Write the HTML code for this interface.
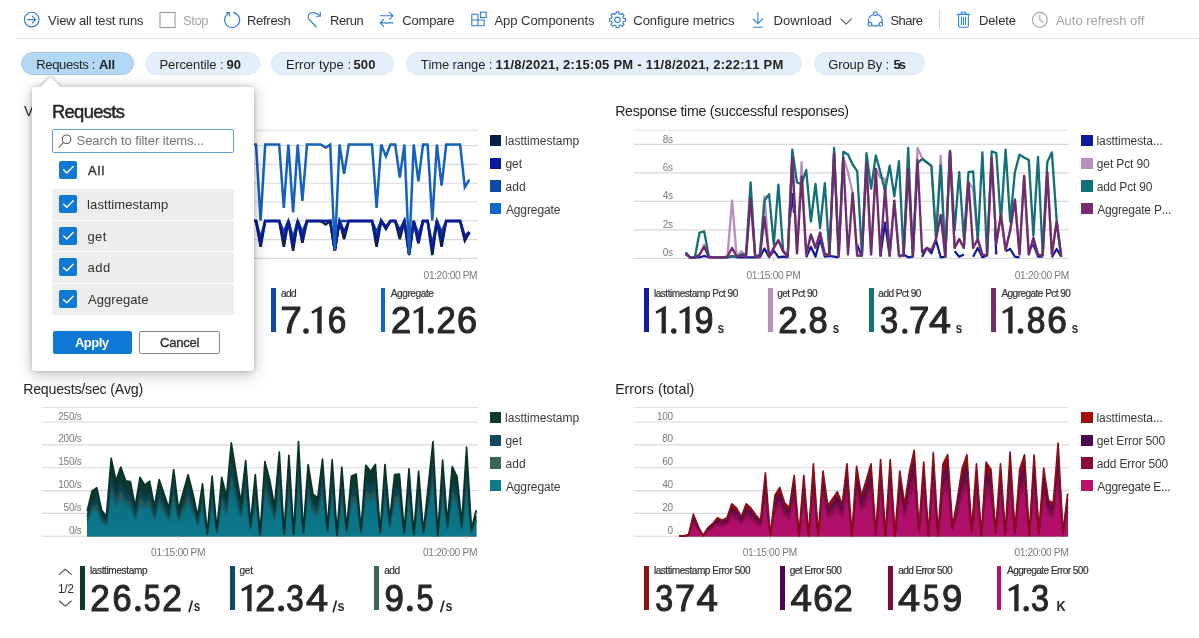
<!DOCTYPE html>
<html><head><meta charset="utf-8"><title>Test run dashboard</title>
<style>
html,body{margin:0;padding:0;background:#fff;}
body{width:1199px;height:638px;position:relative;overflow:hidden;font-family:"Liberation Sans",sans-serif;}
.t{position:absolute;white-space:pre;line-height:normal;font-kerning:none;}
.b{position:absolute;box-sizing:border-box;}
svg{position:absolute;left:0;top:0;overflow:visible;}
#root{position:absolute;left:0;top:0;width:1199px;height:638px;will-change:transform;}
</style></head><body><div id="root">
<div class="b" style="left:16px;top:37.5px;width:1183px;height:1px;background:#e6e6e6;"></div>
<span class="t" style="left:47.94px;top:12.93px;font-size:13px;color:#323130;letter-spacing:-0.161px;">View all test runs</span>
<span class="t" style="left:182.91px;top:12.93px;font-size:13px;color:#a6a4a2;letter-spacing:-0.369px;">Stop</span>
<span class="t" style="left:246.93px;top:12.93px;font-size:13px;color:#323130;letter-spacing:-0.268px;">Refresh</span>
<span class="t" style="left:329.93px;top:12.93px;font-size:13px;color:#323130;letter-spacing:-0.374px;">Rerun</span>
<span class="t" style="left:402.34px;top:12.93px;font-size:13px;color:#323130;letter-spacing:-0.205px;">Compare</span>
<span class="t" style="left:494.47px;top:12.93px;font-size:13px;color:#323130;letter-spacing:-0.035px;">App Components</span>
<span class="t" style="left:633.34px;top:12.93px;font-size:13px;color:#323130;letter-spacing:-0.046px;">Configure metrics</span>
<span class="t" style="left:773.43px;top:12.93px;font-size:13px;color:#323130;letter-spacing:0.084px;">Download</span>
<span class="t" style="left:890.41px;top:12.93px;font-size:13px;color:#323130;letter-spacing:-0.505px;">Share</span>
<span class="t" style="left:978.93px;top:12.93px;font-size:13px;color:#323130;letter-spacing:-0.087px;">Delete</span>
<span class="t" style="left:1055.97px;top:12.93px;font-size:13px;color:#a6a4a2;letter-spacing:-0.025px;">Auto refresh off</span>
<svg width="1199" height="40" viewBox="0 0 1199 40" fill="none" stroke="#2f7fc6" stroke-width="1.1" stroke-linecap="round" stroke-linejoin="round">
<circle cx="31.7" cy="19.6" r="7.3"/><path d="M27.6 19.6H35.4M32.4 16.3L35.6 19.6L32.4 22.9"/>
<rect x="160" y="12.5" width="15" height="15" stroke="#9a9896" stroke-linejoin="miter"/>
<path d="M229.2 13.1A7.5 7.5 0 1 0 233.4 12.6"/><path d="M226.6 12.4L229.6 12.9L229.2 16.1" />
<path d="M316.3 27L309 19.3C306.8 16.6 308.6 12.6 312.4 12.6C315.6 12.6 318.2 14 319.9 16"/><path d="M320.3 12.2V16.2H316.4"/>
<path d="M380.4 15.8H393M389.6 12.4L393 15.8L389.6 19.2M393 22.9H380.2M383.6 19.5L380.2 22.9L383.6 26.3"/>
<path d="M471.8 14.3H478V25.8H471.8ZM471.8 20H484.2V25.8H478" stroke-linejoin="miter"/><rect x="480.5" y="12.2" width="5.7" height="5.4" stroke-linejoin="miter"/>
<circle cx="617.5" cy="19.8" r="2.7"/>
<path d="M616.12 11.92L618.88 11.92L618.95 13.77L620.74 14.51L622.10 13.25L624.05 15.20L622.79 16.56L623.53 18.35L625.38 18.42L625.38 21.18L623.53 21.25L622.79 23.04L624.05 24.40L622.10 26.35L620.74 25.09L618.95 25.83L618.88 27.68L616.12 27.68L616.05 25.83L614.26 25.09L612.90 26.35L610.95 24.40L612.21 23.04L611.47 21.25L609.62 21.18L609.62 18.42L611.47 18.35L612.21 16.56L610.95 15.20L612.90 13.25L614.26 14.51L616.05 13.77Z"/>
<path d="M757.9 12.5V23.6M753.2 19L757.9 23.7L762.6 19M753.4 27.3H762.5" stroke="#2b88d8"/>
<path d="M840.8 18.8L846.1 24.2L851.4 18.8" stroke="#605e5c"/>
<circle cx="875.4" cy="13.7" r="1.9"/><circle cx="869.9" cy="24.3" r="1.9"/><circle cx="880.8" cy="24.3" r="1.9"/>
<path d="M873.5 14.3C869.5 16 867.9 19.3 868.9 22.4M877.3 14.3C881.3 16 882.8 19.3 881.8 22.4M871.8 25C874 26.4 876.8 26.4 879 25"/>
<path d="M939.5 10V28.5" stroke="#d6d4d2" stroke-width="1"/>
<path d="M957.3 14.4H969.7M961.3 14.2V12.2H965.7V14.2M958.6 14.6V25.8Q958.6 27.3 960.1 27.3H966.9Q968.4 27.3 968.4 25.8V14.6M961.5 17V24.6M963.5 17V24.6M965.5 17V24.6" stroke="#2b88d8"/>
<circle cx="1039.8" cy="19.8" r="7.4" stroke="#a8a6a4"/><path d="M1039.8 15.2V19.9L1042.8 22.3" stroke="#a8a6a4"/>
</svg>
<div class="b" style="left:21px;top:52.3px;width:113px;height:23.2px;background:#b3d8f5;border-radius:12px;border:1px solid #a4c9e6;"></div>
<span class="t" style="left:36.33px;top:56.64px;font-size:13px;color:#201f1e;letter-spacing:-0.354px;">Requests :</span>
<span class="t" style="left:98.88px;top:56.64px;font-size:13px;font-weight:bold;color:#201f1e;letter-spacing:-0.234px;">All</span>
<div class="b" style="left:145px;top:52.3px;width:115px;height:23.2px;background:#e3effa;border-radius:12px;border:1px solid #dbe9f6;"></div>
<span class="t" style="left:159.43px;top:56.64px;font-size:13px;color:#201f1e;letter-spacing:-0.071px;">Percentile :</span>
<span class="t" style="left:226.55px;top:56.64px;font-size:13px;font-weight:bold;color:#201f1e;letter-spacing:0.024px;">90</span>
<div class="b" style="left:270.5px;top:52.3px;width:123.0px;height:23.2px;background:#e3effa;border-radius:12px;border:1px solid #dbe9f6;"></div>
<span class="t" style="left:285.93px;top:56.64px;font-size:13px;color:#201f1e;letter-spacing:0.087px;">Error type :</span>
<span class="t" style="left:353.40px;top:56.64px;font-size:13px;font-weight:bold;color:#201f1e;letter-spacing:0.222px;">500</span>
<div class="b" style="left:405.5px;top:52.3px;width:396.5px;height:23.2px;background:#e3effa;border-radius:12px;border:1px solid #dbe9f6;"></div>
<span class="t" style="left:420.71px;top:56.64px;font-size:13px;color:#201f1e;letter-spacing:-0.118px;">Time range :</span>
<span class="t" style="left:495.48px;top:56.64px;font-size:13px;font-weight:bold;color:#201f1e;letter-spacing:0.236px;">11/8/2021, 2:15:05 PM - 11/8/2021, 2:22:11 PM</span>
<div class="b" style="left:814px;top:52.3px;width:111px;height:23.2px;background:#e3effa;border-radius:12px;border:1px solid #dbe9f6;"></div>
<span class="t" style="left:828.35px;top:56.64px;font-size:13px;color:#201f1e;letter-spacing:-0.144px;">Group By :</span>
<span class="t" style="left:893.40px;top:56.64px;font-size:13px;font-weight:bold;color:#201f1e;letter-spacing:-1.827px;">5s</span>
<span class="t" style="left:23.94px;top:103.45px;font-size:14.2px;color:#252423;letter-spacing:0.000px;">Virtual Users (Max)</span>
<span class="t" style="left:615.14px;top:103.45px;font-size:14.2px;color:#252423;letter-spacing:-0.278px;">Response time (successful responses)</span>
<span class="t" style="left:23.14px;top:380.65px;font-size:14.2px;color:#252423;letter-spacing:-0.215px;">Requests/sec (Avg)</span>
<span class="t" style="left:615.14px;top:380.65px;font-size:14.2px;color:#252423;letter-spacing:0.027px;">Errors (total)</span>
<svg width="1199" height="638" viewBox="0 0 1199 638" fill="none">
<path d="M41.5 130.3H478" stroke="#e2e2e2" stroke-width="1"/>
<path d="M41.5 145.6H478" stroke="#d9d9d9" stroke-width="1.1"/>
<path d="M41.5 164.4H478" stroke="#d9d9d9" stroke-width="1.1"/>
<path d="M41.5 183.2H478" stroke="#d9d9d9" stroke-width="1.1"/>
<path d="M41.5 202H478" stroke="#d9d9d9" stroke-width="1.1"/>
<path d="M41.5 220.8H478" stroke="#d9d9d9" stroke-width="1.1"/>
<path d="M41.5 239.6H478" stroke="#d9d9d9" stroke-width="1.1"/>
<path d="M41.5 258.4H478" stroke="#d9d9d9" stroke-width="1.1"/>
<polyline points="93.6,220.9 98.2,220.9 102.8,220.9 107.5,246.0 112.1,220.9 116.8,220.9 121.4,220.9 126.0,220.9 130.7,240.0 135.3,220.9 140.0,220.9 144.6,220.9 149.2,250.0 153.9,220.9 158.5,220.9 163.2,236.0 167.8,220.9 172.4,220.9 177.1,220.9 181.7,247.0 186.4,220.9 191.0,220.9 195.6,240.0 200.3,220.9 204.9,220.9 209.6,220.9 214.2,251.0 218.8,220.9 223.5,220.9 228.1,238.0 232.8,220.9 237.4,220.9 242.0,246.0 246.7,220.9 251.3,220.9 256.0,220.9 260.6,238.0 265.2,220.9 269.9,220.9 274.5,220.9 279.2,220.9 283.8,232.0 288.4,220.9 293.1,238.0 297.7,220.9 302.4,232.0 307.0,220.9 311.6,220.9 316.3,220.9 320.9,220.9 325.6,220.9 330.2,220.9 334.8,250.9 339.5,220.9 344.1,221.0 348.8,220.9 353.4,220.9 358.0,220.9 362.7,220.9 367.3,220.9 372.0,220.9 376.6,232.0 381.2,220.9 385.9,227.0 390.5,220.9 395.2,220.9 399.8,230.0 404.4,220.9 409.1,254.0 413.7,220.9 418.4,235.0 423.0,220.9 427.6,220.9 432.3,245.0 436.9,220.9 441.6,232.0 446.2,220.9 450.8,220.9 455.5,220.9 460.1,220.9 464.8,236.0 469.4,232.0" stroke="#0b4aa6" stroke-width="2.5" stroke-linejoin="miter" stroke-miterlimit="4"/>
<polyline points="93.6,220.9 98.2,220.9 102.8,220.9 107.5,246.0 112.1,220.9 116.8,220.9 121.4,220.9 126.0,220.9 130.7,240.0 135.3,220.9 140.0,220.9 144.6,220.9 149.2,250.0 153.9,220.9 158.5,220.9 163.2,236.0 167.8,220.9 172.4,220.9 177.1,220.9 181.7,247.0 186.4,220.9 191.0,220.9 195.6,240.0 200.3,220.9 204.9,220.9 209.6,220.9 214.2,251.0 218.8,220.9 223.5,220.9 228.1,238.0 232.8,220.9 237.4,220.9 242.0,246.0 246.7,220.9 251.3,220.9 256.0,220.9 260.6,246.9 265.2,220.9 269.9,220.9 274.5,220.9 279.2,220.9 283.8,246.9 288.4,220.9 293.1,250.9 297.7,220.9 302.4,242.8 307.0,220.9 311.6,220.9 316.3,220.9 320.9,220.9 325.6,224.4 330.2,220.9 334.8,250.9 339.5,220.9 344.1,239.2 348.8,220.9 353.4,220.9 358.0,220.9 362.7,220.9 367.3,220.9 372.0,220.9 376.6,246.9 381.2,220.9 385.9,229.0 390.5,220.9 395.2,220.9 399.8,239.2 404.4,220.9 409.1,255.0 413.7,220.9 418.4,243.3 423.0,220.9 427.6,220.9 432.3,255.0 436.9,220.9 441.6,246.9 446.2,220.9 450.8,220.9 455.5,220.9 460.1,220.9 464.8,240.7 469.4,232.6" stroke="#0a2147" stroke-width="2.5" stroke-linejoin="miter" stroke-miterlimit="4"/>
<polyline points="93.6,220.9 98.2,220.9 102.8,220.9 107.5,246.0 112.1,220.9 116.8,220.9 121.4,220.9 126.0,220.9 130.7,240.0 135.3,220.9 140.0,220.9 144.6,220.9 149.2,250.0 153.9,220.9 158.5,220.9 163.2,236.0 167.8,220.9 172.4,220.9 177.1,220.9 181.7,247.0 186.4,220.9 191.0,220.9 195.6,240.0 200.3,220.9 204.9,220.9 209.6,220.9 214.2,251.0 218.8,220.9 223.5,220.9 228.1,238.0 232.8,220.9 237.4,220.9 242.0,246.0 246.7,220.9 251.3,220.9 256.0,220.9 260.6,244.0 265.2,220.9 269.9,220.9 274.5,220.9 279.2,220.9 283.8,240.0 288.4,220.9 293.1,246.0 297.7,220.9 302.4,238.0 307.0,220.9 311.6,220.9 316.3,220.9 320.9,220.9 325.6,220.9 330.2,220.9 334.8,250.0 339.5,220.9 344.1,232.0 348.8,220.9 353.4,220.9 358.0,220.9 362.7,220.9 367.3,220.9 372.0,220.9 376.6,240.0 381.2,220.9 385.9,227.0 390.5,220.9 395.2,220.9 399.8,232.0 404.4,220.9 409.1,254.0 413.7,220.9 418.4,243.0 423.0,220.9 427.6,220.9 432.3,250.0 436.9,220.9 441.6,240.0 446.2,220.9 450.8,220.9 455.5,220.9 460.1,220.9 464.8,238.0 469.4,232.0" stroke="#0c1c98" stroke-width="2.5" stroke-linejoin="miter" stroke-miterlimit="4"/>
<polyline points="93.6,144.5 98.2,144.5 102.8,144.5 107.5,215.0 112.1,144.5 116.8,144.5 121.4,144.5 126.0,144.5 130.7,190.0 135.3,144.5 140.0,144.5 144.6,144.5 149.2,225.0 153.9,144.5 158.5,144.5 163.2,180.0 167.8,144.5 172.4,144.5 177.1,144.5 181.7,212.0 186.4,144.5 191.0,144.5 195.6,195.0 200.3,144.5 204.9,144.5 209.6,144.5 214.2,230.0 218.8,144.5 223.5,144.5 228.1,185.0 232.8,144.5 237.4,144.5 242.0,210.0 246.7,144.5 251.3,144.5 256.0,144.5 260.6,220.3 265.2,144.5 269.9,144.5 274.5,144.5 279.2,144.5 283.8,207.8 288.4,144.5 293.1,212.3 297.7,144.5 302.4,200.8 307.0,144.5 311.6,144.5 316.3,144.5 320.9,144.5 325.6,147.8 330.2,144.5 334.8,251.0 339.5,144.5 344.1,173.9 348.8,144.5 353.4,144.5 358.0,144.5 362.7,144.5 367.3,144.5 372.0,144.5 376.6,207.8 381.2,144.5 385.9,156.4 390.5,144.5 395.2,144.5 399.8,177.7 404.4,144.5 409.1,254.0 413.7,144.5 418.4,181.4 423.0,144.5 427.6,144.5 432.3,220.3 436.9,144.5 441.6,185.7 446.2,144.5 450.8,144.5 455.5,144.5 460.1,144.5 464.8,187.2 469.4,179.7" stroke="#1661bd" stroke-width="2.5" stroke-linejoin="miter" stroke-miterlimit="4"/>
<path d="M460 258.6V261.5M178 258.6V261.5" stroke="#c8c8c8" stroke-width="1"/>
<path d="M633.5 130.2H1068.8" stroke="#e2e2e2" stroke-width="1"/>
<path d="M633.5 144.4H1068.8" stroke="#d9d9d9" stroke-width="1.1"/>
<path d="M633.5 172.9H1068.8" stroke="#d9d9d9" stroke-width="1.1"/>
<path d="M633.5 201.4H1068.8" stroke="#d9d9d9" stroke-width="1.1"/>
<path d="M633.5 229.9H1068.8" stroke="#d9d9d9" stroke-width="1.1"/>
<path d="M633.5 258.4H1068.8" stroke="#d9d9d9" stroke-width="1.1"/>
<polyline points="685.7,254.5 690.3,257.3 695.0,257.3 699.6,257.3 704.2,256.0 708.9,257.3 713.5,257.3 718.2,257.3 722.8,257.3 727.4,257.3 732.1,256.0 736.7,257.3 741.3,257.3 746.0,257.3 750.6,257.3 755.2,257.3 759.9,257.3 764.5,248.5 769.1,257.3 773.8,250.5 778.4,257.3 783.1,256.7 787.7,257.3" stroke="#0f1a9e" stroke-width="2.2" stroke-linejoin="round"/>
<polyline points="806.2,257.3 810.9,246.8 815.5,256.7 820.1,239.1 824.8,256.7 829.4,256.0 834.1,256.7 838.7,257.3" stroke="#0f1a9e" stroke-width="2.2" stroke-linejoin="round"/>
<polyline points="857.2,244.6 861.9,256.7" stroke="#0f1a9e" stroke-width="2.2" stroke-linejoin="round"/>
<polyline points="880.4,256.7 885.0,222.7 889.7,256.7" stroke="#0f1a9e" stroke-width="2.2" stroke-linejoin="round"/>
<polyline points="899.0,256.7 903.6,254.5 908.2,257.3 912.9,256.7" stroke="#0f1a9e" stroke-width="2.2" stroke-linejoin="round"/>
<polyline points="922.1,256.7 926.8,247.9 931.4,253.4 936.0,240.2 940.7,257.3 945.3,256.7" stroke="#0f1a9e" stroke-width="2.2" stroke-linejoin="round"/>
<polyline points="954.6,251.2 959.2,256.7 963.9,254.5" stroke="#0f1a9e" stroke-width="2.2" stroke-linejoin="round"/>
<polyline points="973.1,256.7 977.8,247.9 982.4,257.3 987.0,255.6" stroke="#0f1a9e" stroke-width="2.2" stroke-linejoin="round"/>
<polyline points="1005.6,251.2 1010.2,249.0 1014.9,256.7 1019.5,257.3" stroke="#0f1a9e" stroke-width="2.2" stroke-linejoin="round"/>
<polyline points="1028.8,250.1 1033.4,244.6 1038.0,256.7 1042.7,256.7" stroke="#0f1a9e" stroke-width="2.2" stroke-linejoin="round"/>
<polyline points="1051.9,257.3 1056.6,249.0 1061.2,256.7" stroke="#0f1a9e" stroke-width="2.2" stroke-linejoin="round"/>
<polyline points="790.1,217.2 792.3,193.0 793.9,212.8" stroke="#0f1a9e" stroke-width="2.2"/>
<polyline points="994.8,228.1 996.3,254.5" stroke="#0f1a9e" stroke-width="2.2"/>
<polyline points="685.7,253.4 690.3,257.8 695.0,257.8 699.6,254.5 704.2,244.6 708.9,257.3 713.5,257.3 718.2,257.3 722.8,257.3 727.4,256.7 732.1,200.7 736.7,256.7 741.3,251.2 746.0,256.7 750.6,198.5 755.2,256.7 759.9,256.7 764.5,196.3 769.1,256.7 773.8,247.9 778.4,240.2 783.1,251.2 787.7,256.7 792.3,157.9 797.0,253.4 801.6,162.3 806.2,254.5 810.9,234.7 815.5,247.9 820.1,232.5 824.8,254.5 829.4,254.5 834.1,153.5 838.7,256.7 843.3,157.9 848.0,172.2 852.6,193.0 857.2,255.6 861.9,255.6 866.5,163.4 871.1,254.5 875.8,168.9 880.4,177.7 885.0,178.8 889.7,255.6 894.3,200.7 899.0,255.6 903.6,255.6 908.2,168.9 912.9,256.7 917.5,148.0 922.1,157.9 926.8,162.7 931.4,166.0 936.0,239.1 940.7,155.7 945.3,256.7 950.0,151.3 954.6,247.9 959.2,239.1 963.9,247.9 968.5,182.1 973.1,188.6 977.8,239.1 982.4,254.5 987.0,255.6 991.7,157.9 996.3,243.5 1000.9,215.0 1005.6,250.1 1010.2,230.3 1014.9,199.6 1019.5,254.5 1024.1,175.9 1028.8,254.5 1033.4,238.0 1038.0,254.5 1042.7,255.6 1047.3,172.2 1051.9,254.5 1056.6,221.6 1061.2,256.7" stroke="#b88fbc" stroke-width="2.3" stroke-linejoin="round"/>
<polyline points="685.7,252.3 690.3,257.8 695.0,256.7 699.6,232.5 704.2,231.4 708.9,256.7 713.5,257.3 718.2,257.3 722.8,257.3 727.4,257.3 732.1,256.7 736.7,256.7 741.3,254.5 746.0,254.5 750.6,182.5 755.2,256.7 759.9,254.5 764.5,200.7 769.1,194.1 773.8,244.6 778.4,184.7 783.1,250.1 787.7,256.7 792.3,149.6 797.0,182.5 801.6,184.2 806.2,170.0 810.9,221.6 815.5,183.8 820.1,228.1 824.8,183.2 829.4,254.5 834.1,148.0 838.7,254.5 843.3,151.8 848.0,154.6 852.6,164.5 857.2,171.1 861.9,254.5 866.5,153.1 871.1,188.6 875.8,155.3 880.4,172.2 885.0,190.8 889.7,165.6 894.3,196.3 899.0,161.2 903.6,255.6 908.2,148.0 912.9,255.6 917.5,163.4 922.1,159.0 926.8,162.3 931.4,165.6 936.0,236.9 940.7,165.6 945.3,256.7 950.0,150.9 954.6,230.3 959.2,172.2 963.9,239.1 968.5,172.2 973.1,171.5 977.8,241.3 982.4,152.4 987.0,254.5 991.7,151.3 996.3,153.1 1000.9,221.6 1005.6,149.6 1010.2,221.6 1014.9,172.2 1019.5,154.6 1024.1,157.5 1028.8,160.1 1033.4,235.8 1038.0,156.8 1042.7,254.5 1047.3,161.9 1051.9,152.4 1056.6,219.4 1061.2,256.7" stroke="#136f78" stroke-width="2.3" stroke-linejoin="round"/>
<polyline points="685.7,253.4 690.3,257.8 695.0,257.8 699.6,254.5 704.2,246.8 708.9,257.3 713.5,257.3 718.2,257.3 722.8,257.3 727.4,256.7 732.1,247.9 736.7,256.7 741.3,255.6 746.0,256.7 750.6,198.5 755.2,256.7 759.9,256.7 764.5,217.2 769.1,256.7 773.8,247.9 778.4,240.2 783.1,251.2 787.7,256.7 792.3,157.9 797.0,253.4 801.6,176.6 806.2,254.5 810.9,234.7 815.5,247.9 820.1,232.5 824.8,254.5 829.4,254.5 834.1,153.5 838.7,256.7 843.3,157.9 848.0,254.5 852.6,193.0 857.2,255.6 861.9,255.6 866.5,163.4 871.1,254.5 875.8,168.9 880.4,255.6 885.0,188.6 889.7,255.6 894.3,200.7 899.0,255.6 903.6,255.6 908.2,168.9 912.9,256.7 917.5,160.1 922.1,252.3 926.8,247.9 931.4,250.1 936.0,239.1 940.7,215.0 945.3,256.7 950.0,151.3 954.6,247.9 959.2,239.1 963.9,247.9 968.5,182.1 973.1,247.9 977.8,239.1 982.4,254.5 987.0,255.6 991.7,157.9 996.3,243.5 1000.9,215.0 1005.6,250.1 1010.2,230.3 1014.9,199.6 1019.5,254.5 1024.1,175.9 1028.8,254.5 1033.4,238.0 1038.0,254.5 1042.7,255.6 1047.3,172.2 1051.9,254.5 1056.6,221.6 1061.2,256.7" stroke="#6e2c6c" stroke-width="2.3" stroke-linejoin="round"/>
<path d="M773.5 258.6V261.5M1052 258.6V261.5" stroke="#c8c8c8" stroke-width="1"/>
<path d="M41.5 407.5H478" stroke="#e2e2e2" stroke-width="1"/>
<path d="M41.5 422H478" stroke="#d9d9d9" stroke-width="1.1"/>
<path d="M41.5 444.9H478" stroke="#d9d9d9" stroke-width="1.1"/>
<path d="M41.5 467.7H478" stroke="#d9d9d9" stroke-width="1.1"/>
<path d="M41.5 490.6H478" stroke="#d9d9d9" stroke-width="1.1"/>
<path d="M41.5 513.4H478" stroke="#d9d9d9" stroke-width="1.1"/>
<path d="M41.5 536.2H478" stroke="#d9d9d9" stroke-width="1.1"/>
<defs><linearGradient id="g3" x1="0" y1="0" x2="0" y2="1"><stop offset="0" stop-color="#0b3a30"/><stop offset="1" stop-color="#0e4a52"/></linearGradient><linearGradient id="a3" gradientUnits="userSpaceOnUse" x1="0" y1="450" x2="0" y2="536"><stop offset="0" stop-color="#0e6474"/><stop offset="1" stop-color="#0b788c"/></linearGradient><linearGradient id="a4" gradientUnits="userSpaceOnUse" x1="0" y1="450" x2="0" y2="536"><stop offset="0" stop-color="#a80f64"/><stop offset="1" stop-color="#b20f6a"/></linearGradient><linearGradient id="g4" x1="0" y1="0" x2="0" y2="1"><stop offset="0" stop-color="#8a1018"/><stop offset="1" stop-color="#7a0c44"/></linearGradient></defs>
<path d="M87.2 536.2 L87.2 511.0 L92.0 491.2 L96.8 487.8 L101.6 510.2 L106.4 516.2 L111.2 458.4 L116.0 480.9 L120.8 467.1 L125.6 480.9 L130.4 481.7 L135.2 506.7 L140.0 477.4 L144.8 485.2 L149.6 481.2 L154.4 506.7 L159.2 479.5 L164.0 493.8 L168.9 508.4 L173.7 469.7 L178.5 509.3 L183.3 492.1 L188.1 474.8 L192.9 493.8 L197.7 516.2 L202.5 483.8 L207.3 533.4 L212.1 476.2 L216.9 530.0 L221.7 477.4 L226.5 496.4 L231.3 442.9 L236.1 473.1 L240.9 502.4 L245.7 460.7 L250.5 524.0 L255.3 474.5 L260.1 534.3 L264.9 461.6 L269.7 480.0 L274.5 506.7 L279.3 452.1 L284.1 533.4 L288.9 455.3 L293.7 533.4 L298.5 441.7 L303.3 531.7 L308.1 464.5 L312.9 493.8 L317.7 498.1 L322.5 459.0 L327.4 528.3 L332.2 459.7 L337.0 534.8 L341.8 467.1 L346.6 528.3 L351.4 476.2 L356.2 474.0 L361.0 530.0 L365.8 465.3 L370.6 471.4 L375.4 464.5 L380.2 531.7 L385.0 464.5 L389.8 519.7 L394.6 474.5 L399.4 474.0 L404.2 531.7 L409.0 468.8 L413.8 534.3 L418.6 471.4 L423.4 531.7 L428.2 486.9 L433.0 441.7 L437.8 535.2 L442.6 460.2 L447.4 523.1 L452.2 466.7 L457.0 476.6 L461.8 523.1 L466.6 447.2 L471.4 529.1 L476.2 510.2 L476.2 536.2Z" fill="#0b382e"/>
<path d="M87.2 536.2 L87.2 516.8 L92.0 501.6 L96.8 498.9 L101.6 516.2 L106.4 520.8 L111.2 476.3 L116.0 493.6 L120.8 483.0 L125.6 493.6 L130.4 494.3 L135.2 513.5 L140.0 490.9 L144.8 496.9 L149.6 493.9 L154.4 513.5 L159.2 492.5 L164.0 503.5 L168.9 514.8 L173.7 485.0 L178.5 515.5 L183.3 502.2 L188.1 488.9 L192.9 503.5 L197.7 520.8 L202.5 495.8 L207.3 534.1 L212.1 490.0 L216.9 531.4 L221.7 490.9 L226.5 505.5 L231.3 464.4 L236.1 487.6 L240.9 510.2 L245.7 478.1 L250.5 526.8 L255.3 488.7 L260.1 534.7 L264.9 478.7 L269.7 492.9 L274.5 513.5 L279.3 471.4 L284.1 534.1 L288.9 473.9 L293.7 534.1 L298.5 463.5 L303.3 532.8 L308.1 481.0 L312.9 503.5 L317.7 506.9 L322.5 476.7 L327.4 530.1 L332.2 477.3 L337.0 535.1 L341.8 483.0 L346.6 530.1 L351.4 490.0 L356.2 488.3 L361.0 531.4 L365.8 481.6 L370.6 486.3 L375.4 481.0 L380.2 532.8 L385.0 481.0 L389.8 523.5 L394.6 488.7 L399.4 488.3 L404.2 532.8 L409.0 484.3 L413.8 534.7 L418.6 486.3 L423.4 532.8 L428.2 498.2 L433.0 463.5 L437.8 535.4 L442.6 477.7 L447.4 526.1 L452.2 482.7 L457.0 490.3 L461.8 526.1 L466.6 467.7 L471.4 530.8 L476.2 516.2 L476.2 536.2Z" fill="#0d4454"/>
<path d="M87.2 536.2 L87.2 520.1 L92.0 507.4 L96.8 505.2 L101.6 519.5 L106.4 523.4 L111.2 486.4 L116.0 500.8 L120.8 492.0 L125.6 500.8 L130.4 501.3 L135.2 517.3 L140.0 498.6 L144.8 503.5 L149.6 501.0 L154.4 517.3 L159.2 499.9 L164.0 509.1 L168.9 518.4 L173.7 493.6 L178.5 519.0 L183.3 508.0 L188.1 496.9 L192.9 509.1 L197.7 523.4 L202.5 502.7 L207.3 534.4 L212.1 497.8 L216.9 532.2 L221.7 498.6 L226.5 510.7 L231.3 476.5 L236.1 495.8 L240.9 514.6 L245.7 487.9 L250.5 528.4 L255.3 496.7 L260.1 535.0 L264.9 488.4 L269.7 500.2 L274.5 517.3 L279.3 482.4 L284.1 534.4 L288.9 484.5 L293.7 534.4 L298.5 475.7 L303.3 533.3 L308.1 490.3 L312.9 509.1 L317.7 511.8 L322.5 486.8 L327.4 531.1 L332.2 487.2 L337.0 535.3 L341.8 492.0 L346.6 531.1 L351.4 497.8 L356.2 496.4 L361.0 532.2 L365.8 490.9 L370.6 494.7 L375.4 490.3 L380.2 533.3 L385.0 490.3 L389.8 525.6 L394.6 496.7 L399.4 496.4 L404.2 533.3 L409.0 493.1 L413.8 535.0 L418.6 494.7 L423.4 533.3 L428.2 504.6 L433.0 475.7 L437.8 535.5 L442.6 487.5 L447.4 527.8 L452.2 491.7 L457.0 498.0 L461.8 527.8 L466.6 479.3 L471.4 531.7 L476.2 519.5 L476.2 536.2Z" fill="#245c5c"/>
<path d="M87.2 536.2 L87.2 522.4 L92.0 511.5 L96.8 509.6 L101.6 521.9 L106.4 525.2 L111.2 493.4 L116.0 505.8 L120.8 498.2 L125.6 505.8 L130.4 506.2 L135.2 520.0 L140.0 503.9 L144.8 508.1 L149.6 506.0 L154.4 520.0 L159.2 505.0 L164.0 512.9 L168.9 520.9 L173.7 499.6 L178.5 521.4 L183.3 511.9 L188.1 502.4 L192.9 512.9 L197.7 525.2 L202.5 507.4 L207.3 534.7 L212.1 503.2 L216.9 532.8 L221.7 503.9 L226.5 514.3 L231.3 484.9 L236.1 501.5 L240.9 517.6 L245.7 494.7 L250.5 529.5 L255.3 502.3 L260.1 535.2 L264.9 495.1 L269.7 505.3 L274.5 520.0 L279.3 489.9 L284.1 534.7 L288.9 491.7 L293.7 534.7 L298.5 484.2 L303.3 533.7 L308.1 496.8 L312.9 512.9 L317.7 515.2 L322.5 493.7 L327.4 531.8 L332.2 494.1 L337.0 535.4 L341.8 498.2 L346.6 531.8 L351.4 503.2 L356.2 502.0 L361.0 532.8 L365.8 497.2 L370.6 500.5 L375.4 496.8 L380.2 533.7 L385.0 496.8 L389.8 527.1 L394.6 502.3 L399.4 502.0 L404.2 533.7 L409.0 499.1 L413.8 535.2 L418.6 500.5 L423.4 533.7 L428.2 509.1 L433.0 484.2 L437.8 535.6 L442.6 494.4 L447.4 529.0 L452.2 498.0 L457.0 503.4 L461.8 529.0 L466.6 487.3 L471.4 532.3 L476.2 521.9 L476.2 536.2Z" fill="url(#a3)"/>
<polyline points="87.2,522.4 92.0,511.5 96.8,509.6 101.6,521.9 106.4,525.2 111.2,493.4 116.0,505.8 120.8,498.2 125.6,505.8 130.4,506.2 135.2,520.0 140.0,503.9 144.8,508.1 149.6,506.0 154.4,520.0 159.2,505.0 164.0,512.9 168.9,520.9 173.7,499.6 178.5,521.4 183.3,511.9 188.1,502.4 192.9,512.9 197.7,525.2 202.5,507.4 207.3,534.7 212.1,503.2 216.9,532.8 221.7,503.9 226.5,514.3 231.3,484.9 236.1,501.5 240.9,517.6 245.7,494.7 250.5,529.5 255.3,502.3 260.1,535.2 264.9,495.1 269.7,505.3 274.5,520.0 279.3,489.9 284.1,534.7 288.9,491.7 293.7,534.7 298.5,484.2 303.3,533.7 308.1,496.8 312.9,512.9 317.7,515.2 322.5,493.7 327.4,531.8 332.2,494.1 337.0,535.4 341.8,498.2 346.6,531.8 351.4,503.2 356.2,502.0 361.0,532.8 365.8,497.2 370.6,500.5 375.4,496.8 380.2,533.7 385.0,496.8 389.8,527.1 394.6,502.3 399.4,502.0 404.2,533.7 409.0,499.1 413.8,535.2 418.6,500.5 423.4,533.7 428.2,509.1 433.0,484.2 437.8,535.6 442.6,494.4 447.4,529.0 452.2,498.0 457.0,503.4 461.8,529.0 466.6,487.3 471.4,532.3 476.2,521.9" stroke="#0d6474" stroke-width="1.5" stroke-linejoin="round"/>
<polyline points="87.2,520.1 92.0,507.4 96.8,505.2 101.6,519.5 106.4,523.4 111.2,486.4 116.0,500.8 120.8,492.0 125.6,500.8 130.4,501.3 135.2,517.3 140.0,498.6 144.8,503.5 149.6,501.0 154.4,517.3 159.2,499.9 164.0,509.1 168.9,518.4 173.7,493.6 178.5,519.0 183.3,508.0 188.1,496.9 192.9,509.1 197.7,523.4 202.5,502.7 207.3,534.4 212.1,497.8 216.9,532.2 221.7,498.6 226.5,510.7 231.3,476.5 236.1,495.8 240.9,514.6 245.7,487.9 250.5,528.4 255.3,496.7 260.1,535.0 264.9,488.4 269.7,500.2 274.5,517.3 279.3,482.4 284.1,534.4 288.9,484.5 293.7,534.4 298.5,475.7 303.3,533.3 308.1,490.3 312.9,509.1 317.7,511.8 322.5,486.8 327.4,531.1 332.2,487.2 337.0,535.3 341.8,492.0 346.6,531.1 351.4,497.8 356.2,496.4 361.0,532.2 365.8,490.9 370.6,494.7 375.4,490.3 380.2,533.3 385.0,490.3 389.8,525.6 394.6,496.7 399.4,496.4 404.2,533.3 409.0,493.1 413.8,535.0 418.6,494.7 423.4,533.3 428.2,504.6 433.0,475.7 437.8,535.5 442.6,487.5 447.4,527.8 452.2,491.7 457.0,498.0 461.8,527.8 466.6,479.3 471.4,531.7 476.2,519.5" stroke="#1f5454" stroke-width="1.5" stroke-linejoin="round"/>
<polyline points="87.2,516.8 92.0,501.6 96.8,498.9 101.6,516.2 106.4,520.8 111.2,476.3 116.0,493.6 120.8,483.0 125.6,493.6 130.4,494.3 135.2,513.5 140.0,490.9 144.8,496.9 149.6,493.9 154.4,513.5 159.2,492.5 164.0,503.5 168.9,514.8 173.7,485.0 178.5,515.5 183.3,502.2 188.1,488.9 192.9,503.5 197.7,520.8 202.5,495.8 207.3,534.1 212.1,490.0 216.9,531.4 221.7,490.9 226.5,505.5 231.3,464.4 236.1,487.6 240.9,510.2 245.7,478.1 250.5,526.8 255.3,488.7 260.1,534.7 264.9,478.7 269.7,492.9 274.5,513.5 279.3,471.4 284.1,534.1 288.9,473.9 293.7,534.1 298.5,463.5 303.3,532.8 308.1,481.0 312.9,503.5 317.7,506.9 322.5,476.7 327.4,530.1 332.2,477.3 337.0,535.1 341.8,483.0 346.6,530.1 351.4,490.0 356.2,488.3 361.0,531.4 365.8,481.6 370.6,486.3 375.4,481.0 380.2,532.8 385.0,481.0 389.8,523.5 394.6,488.7 399.4,488.3 404.2,532.8 409.0,484.3 413.8,534.7 418.6,486.3 423.4,532.8 428.2,498.2 433.0,463.5 437.8,535.4 442.6,477.7 447.4,526.1 452.2,482.7 457.0,490.3 461.8,526.1 466.6,467.7 471.4,530.8 476.2,516.2" stroke="#0c3e4e" stroke-width="1.5" stroke-linejoin="round"/>
<polyline points="87.2,511.0 92.0,491.2 96.8,487.8 101.6,510.2 106.4,516.2 111.2,458.4 116.0,480.9 120.8,467.1 125.6,480.9 130.4,481.7 135.2,506.7 140.0,477.4 144.8,485.2 149.6,481.2 154.4,506.7 159.2,479.5 164.0,493.8 168.9,508.4 173.7,469.7 178.5,509.3 183.3,492.1 188.1,474.8 192.9,493.8 197.7,516.2 202.5,483.8 207.3,533.4 212.1,476.2 216.9,530.0 221.7,477.4 226.5,496.4 231.3,442.9 236.1,473.1 240.9,502.4 245.7,460.7 250.5,524.0 255.3,474.5 260.1,534.3 264.9,461.6 269.7,480.0 274.5,506.7 279.3,452.1 284.1,533.4 288.9,455.3 293.7,533.4 298.5,441.7 303.3,531.7 308.1,464.5 312.9,493.8 317.7,498.1 322.5,459.0 327.4,528.3 332.2,459.7 337.0,534.8 341.8,467.1 346.6,528.3 351.4,476.2 356.2,474.0 361.0,530.0 365.8,465.3 370.6,471.4 375.4,464.5 380.2,531.7 385.0,464.5 389.8,519.7 394.6,474.5 399.4,474.0 404.2,531.7 409.0,468.8 413.8,534.3 418.6,471.4 423.4,531.7 428.2,486.9 433.0,441.7 437.8,535.2 442.6,460.2 447.4,523.1 452.2,466.7 457.0,476.6 461.8,523.1 466.6,447.2 471.4,529.1 476.2,510.2" stroke="#0a332a" stroke-width="1.7" stroke-linejoin="round"/>
<path d="M178 536.4V539.5M466.2 536.4V539.5" stroke="#c8c8c8" stroke-width="1"/>
<path d="M633.5 407.5H1068.8" stroke="#e2e2e2" stroke-width="1"/>
<path d="M633.5 422H1068.8" stroke="#d9d9d9" stroke-width="1.1"/>
<path d="M633.5 444.9H1068.8" stroke="#d9d9d9" stroke-width="1.1"/>
<path d="M633.5 467.7H1068.8" stroke="#d9d9d9" stroke-width="1.1"/>
<path d="M633.5 490.6H1068.8" stroke="#d9d9d9" stroke-width="1.1"/>
<path d="M633.5 513.4H1068.8" stroke="#d9d9d9" stroke-width="1.1"/>
<path d="M633.5 536.2H1068.8" stroke="#d9d9d9" stroke-width="1.1"/>
<path d="M679.0 536.2 L679.0 535.8 L683.8 535.8 L688.6 534.9 L693.4 514.2 L698.2 526.3 L703.0 535.4 L707.8 528.0 L712.6 523.7 L717.4 517.7 L722.2 520.3 L727.0 517.7 L731.8 503.9 L736.6 508.2 L741.4 516.8 L746.2 503.9 L751.0 508.2 L755.8 515.1 L760.6 520.3 L765.4 472.8 L770.2 535.8 L775.0 495.3 L779.8 487.5 L784.6 503.0 L789.4 507.3 L794.2 475.4 L799.0 535.4 L803.8 475.4 L808.6 535.4 L813.4 463.9 L818.2 535.4 L823.0 471.1 L827.8 505.6 L832.6 498.7 L837.4 491.8 L842.2 504.7 L847.0 463.9 L851.8 535.4 L856.6 466.3 L861.4 496.1 L866.2 480.6 L871.0 463.9 L875.8 534.0 L880.6 459.6 L885.4 535.4 L890.2 459.6 L895.0 535.4 L899.8 471.1 L904.6 504.7 L909.4 472.0 L914.2 450.4 L919.0 528.9 L923.7 462.0 L928.5 535.4 L933.3 452.7 L938.1 535.4 L942.9 464.2 L947.7 454.7 L952.5 527.2 L957.3 499.6 L962.1 468.5 L966.9 454.7 L971.7 530.6 L976.5 463.9 L981.3 535.4 L986.1 462.2 L990.9 469.4 L995.7 532.3 L1000.5 463.9 L1005.3 534.0 L1010.1 452.2 L1014.9 532.3 L1019.7 469.4 L1024.5 454.7 L1029.3 535.4 L1034.1 455.1 L1038.9 532.3 L1043.7 468.2 L1048.5 500.4 L1053.3 503.0 L1058.1 443.0 L1062.9 532.3 L1067.7 493.5 L1067.7 536.2Z" fill="#8a1018"/>
<path d="M679.0 536.2 L679.0 535.8 L683.8 535.8 L688.6 535.1 L693.4 517.3 L698.2 527.7 L703.0 535.5 L707.8 529.2 L712.6 525.5 L717.4 520.3 L722.2 522.5 L727.0 520.3 L731.8 508.4 L736.6 512.1 L741.4 519.5 L746.2 508.4 L751.0 512.1 L755.8 518.0 L760.6 522.5 L765.4 481.7 L770.2 535.8 L775.0 501.0 L779.8 494.3 L784.6 507.7 L789.4 511.4 L794.2 483.9 L799.0 535.5 L803.8 483.9 L808.6 535.5 L813.4 474.0 L818.2 535.5 L823.0 480.2 L827.8 509.9 L832.6 504.0 L837.4 498.0 L842.2 509.1 L847.0 474.0 L851.8 535.5 L856.6 476.1 L861.4 501.7 L866.2 488.4 L871.0 474.0 L875.8 534.3 L880.6 470.3 L885.4 535.5 L890.2 470.3 L895.0 535.5 L899.8 480.2 L904.6 509.1 L909.4 481.0 L914.2 462.4 L919.0 529.9 L923.7 472.4 L928.5 535.5 L933.3 464.4 L938.1 535.5 L942.9 474.3 L947.7 466.1 L952.5 528.4 L957.3 504.7 L962.1 478.0 L966.9 466.1 L971.7 531.4 L976.5 474.0 L981.3 535.5 L986.1 472.5 L990.9 478.7 L995.7 532.9 L1000.5 474.0 L1005.3 534.3 L1010.1 463.9 L1014.9 532.9 L1019.7 478.7 L1024.5 466.1 L1029.3 535.5 L1034.1 466.4 L1038.9 532.9 L1043.7 477.7 L1048.5 505.4 L1053.3 507.7 L1058.1 456.1 L1062.9 532.9 L1067.7 499.5 L1067.7 536.2Z" fill="#640c4c"/>
<path d="M679.0 536.2 L679.0 535.9 L683.8 535.9 L688.6 535.3 L693.4 520.8 L698.2 529.3 L703.0 535.7 L707.8 530.5 L712.6 527.5 L717.4 523.2 L722.2 525.0 L727.0 523.2 L731.8 513.6 L736.6 516.6 L741.4 522.6 L746.2 513.6 L751.0 516.6 L755.8 521.4 L760.6 525.0 L765.4 491.8 L770.2 535.9 L775.0 507.5 L779.8 502.1 L784.6 513.0 L789.4 516.0 L794.2 493.7 L799.0 535.7 L803.8 493.7 L808.6 535.7 L813.4 485.6 L818.2 535.7 L823.0 490.6 L827.8 514.8 L832.6 510.0 L837.4 505.1 L842.2 514.2 L847.0 485.6 L851.8 535.7 L856.6 487.3 L861.4 508.1 L866.2 497.3 L871.0 485.6 L875.8 534.7 L880.6 482.6 L885.4 535.7 L890.2 482.6 L895.0 535.7 L899.8 490.6 L904.6 514.2 L909.4 491.2 L914.2 476.2 L919.0 531.1 L923.7 484.2 L928.5 535.7 L933.3 477.7 L938.1 535.7 L942.9 485.8 L947.7 479.2 L952.5 529.9 L957.3 510.6 L962.1 488.8 L966.9 479.2 L971.7 532.3 L976.5 485.6 L981.3 535.7 L986.1 484.4 L990.9 489.4 L995.7 533.5 L1000.5 485.6 L1005.3 534.7 L1010.1 477.4 L1014.9 533.5 L1019.7 489.4 L1024.5 479.2 L1029.3 535.7 L1034.1 479.4 L1038.9 533.5 L1043.7 488.6 L1048.5 511.2 L1053.3 513.0 L1058.1 471.0 L1062.9 533.5 L1067.7 506.3 L1067.7 536.2Z" fill="#900c50"/>
<path d="M679.0 536.2 L679.0 536.0 L683.8 536.0 L688.6 535.5 L693.4 523.7 L698.2 530.6 L703.0 535.8 L707.8 531.5 L712.6 529.1 L717.4 525.6 L722.2 527.1 L727.0 525.6 L731.8 517.8 L736.6 520.2 L741.4 525.1 L746.2 517.8 L751.0 520.2 L755.8 524.2 L760.6 527.1 L765.4 500.1 L770.2 536.0 L775.0 512.9 L779.8 508.4 L784.6 517.3 L789.4 519.7 L794.2 501.6 L799.0 535.8 L803.8 501.6 L808.6 535.8 L813.4 495.0 L818.2 535.8 L823.0 499.1 L827.8 518.8 L832.6 514.8 L837.4 510.9 L842.2 518.3 L847.0 495.0 L851.8 535.8 L856.6 496.4 L861.4 513.4 L866.2 504.5 L871.0 495.0 L875.8 535.0 L880.6 492.5 L885.4 535.8 L890.2 492.5 L895.0 535.8 L899.8 499.1 L904.6 518.3 L909.4 499.6 L914.2 487.3 L919.0 532.0 L923.7 493.9 L928.5 535.8 L933.3 488.6 L938.1 535.8 L942.9 495.2 L947.7 489.8 L952.5 531.0 L957.3 515.3 L962.1 497.6 L966.9 489.8 L971.7 533.0 L976.5 495.0 L981.3 535.8 L986.1 494.0 L990.9 498.1 L995.7 534.0 L1000.5 495.0 L1005.3 535.0 L1010.1 488.3 L1014.9 534.0 L1019.7 498.1 L1024.5 489.8 L1029.3 535.8 L1034.1 490.0 L1038.9 534.0 L1043.7 497.4 L1048.5 515.8 L1053.3 517.3 L1058.1 483.1 L1062.9 534.0 L1067.7 511.9 L1067.7 536.2Z" fill="url(#a4)"/>
<polyline points="679.0,536.0 683.8,536.0 688.6,535.5 693.4,523.7 698.2,530.6 703.0,535.8 707.8,531.5 712.6,529.1 717.4,525.6 722.2,527.1 727.0,525.6 731.8,517.8 736.6,520.2 741.4,525.1 746.2,517.8 751.0,520.2 755.8,524.2 760.6,527.1 765.4,500.1 770.2,536.0 775.0,512.9 779.8,508.4 784.6,517.3 789.4,519.7 794.2,501.6 799.0,535.8 803.8,501.6 808.6,535.8 813.4,495.0 818.2,535.8 823.0,499.1 827.8,518.8 832.6,514.8 837.4,510.9 842.2,518.3 847.0,495.0 851.8,535.8 856.6,496.4 861.4,513.4 866.2,504.5 871.0,495.0 875.8,535.0 880.6,492.5 885.4,535.8 890.2,492.5 895.0,535.8 899.8,499.1 904.6,518.3 909.4,499.6 914.2,487.3 919.0,532.0 923.7,493.9 928.5,535.8 933.3,488.6 938.1,535.8 942.9,495.2 947.7,489.8 952.5,531.0 957.3,515.3 962.1,497.6 966.9,489.8 971.7,533.0 976.5,495.0 981.3,535.8 986.1,494.0 990.9,498.1 995.7,534.0 1000.5,495.0 1005.3,535.0 1010.1,488.3 1014.9,534.0 1019.7,498.1 1024.5,489.8 1029.3,535.8 1034.1,490.0 1038.9,534.0 1043.7,497.4 1048.5,515.8 1053.3,517.3 1058.1,483.1 1062.9,534.0 1067.7,511.9" stroke="#a00e60" stroke-width="1.5" stroke-linejoin="round"/>
<polyline points="679.0,535.9 683.8,535.9 688.6,535.3 693.4,520.8 698.2,529.3 703.0,535.7 707.8,530.5 712.6,527.5 717.4,523.2 722.2,525.0 727.0,523.2 731.8,513.6 736.6,516.6 741.4,522.6 746.2,513.6 751.0,516.6 755.8,521.4 760.6,525.0 765.4,491.8 770.2,535.9 775.0,507.5 779.8,502.1 784.6,513.0 789.4,516.0 794.2,493.7 799.0,535.7 803.8,493.7 808.6,535.7 813.4,485.6 818.2,535.7 823.0,490.6 827.8,514.8 832.6,510.0 837.4,505.1 842.2,514.2 847.0,485.6 851.8,535.7 856.6,487.3 861.4,508.1 866.2,497.3 871.0,485.6 875.8,534.7 880.6,482.6 885.4,535.7 890.2,482.6 895.0,535.7 899.8,490.6 904.6,514.2 909.4,491.2 914.2,476.2 919.0,531.1 923.7,484.2 928.5,535.7 933.3,477.7 938.1,535.7 942.9,485.8 947.7,479.2 952.5,529.9 957.3,510.6 962.1,488.8 966.9,479.2 971.7,532.3 976.5,485.6 981.3,535.7 986.1,484.4 990.9,489.4 995.7,533.5 1000.5,485.6 1005.3,534.7 1010.1,477.4 1014.9,533.5 1019.7,489.4 1024.5,479.2 1029.3,535.7 1034.1,479.4 1038.9,533.5 1043.7,488.6 1048.5,511.2 1053.3,513.0 1058.1,471.0 1062.9,533.5 1067.7,506.3" stroke="#860c4c" stroke-width="1.5" stroke-linejoin="round"/>
<polyline points="679.0,535.8 683.8,535.8 688.6,535.1 693.4,517.3 698.2,527.7 703.0,535.5 707.8,529.2 712.6,525.5 717.4,520.3 722.2,522.5 727.0,520.3 731.8,508.4 736.6,512.1 741.4,519.5 746.2,508.4 751.0,512.1 755.8,518.0 760.6,522.5 765.4,481.7 770.2,535.8 775.0,501.0 779.8,494.3 784.6,507.7 789.4,511.4 794.2,483.9 799.0,535.5 803.8,483.9 808.6,535.5 813.4,474.0 818.2,535.5 823.0,480.2 827.8,509.9 832.6,504.0 837.4,498.0 842.2,509.1 847.0,474.0 851.8,535.5 856.6,476.1 861.4,501.7 866.2,488.4 871.0,474.0 875.8,534.3 880.6,470.3 885.4,535.5 890.2,470.3 895.0,535.5 899.8,480.2 904.6,509.1 909.4,481.0 914.2,462.4 919.0,529.9 923.7,472.4 928.5,535.5 933.3,464.4 938.1,535.5 942.9,474.3 947.7,466.1 952.5,528.4 957.3,504.7 962.1,478.0 966.9,466.1 971.7,531.4 976.5,474.0 981.3,535.5 986.1,472.5 990.9,478.7 995.7,532.9 1000.5,474.0 1005.3,534.3 1010.1,463.9 1014.9,532.9 1019.7,478.7 1024.5,466.1 1029.3,535.5 1034.1,466.4 1038.9,532.9 1043.7,477.7 1048.5,505.4 1053.3,507.7 1058.1,456.1 1062.9,532.9 1067.7,499.5" stroke="#5c0c48" stroke-width="1.5" stroke-linejoin="round"/>
<polyline points="679.0,535.8 683.8,535.8 688.6,534.9 693.4,514.2 698.2,526.3 703.0,535.4 707.8,528.0 712.6,523.7 717.4,517.7 722.2,520.3 727.0,517.7 731.8,503.9 736.6,508.2 741.4,516.8 746.2,503.9 751.0,508.2 755.8,515.1 760.6,520.3 765.4,472.8 770.2,535.8 775.0,495.3 779.8,487.5 784.6,503.0 789.4,507.3 794.2,475.4 799.0,535.4 803.8,475.4 808.6,535.4 813.4,463.9 818.2,535.4 823.0,471.1 827.8,505.6 832.6,498.7 837.4,491.8 842.2,504.7 847.0,463.9 851.8,535.4 856.6,466.3 861.4,496.1 866.2,480.6 871.0,463.9 875.8,534.0 880.6,459.6 885.4,535.4 890.2,459.6 895.0,535.4 899.8,471.1 904.6,504.7 909.4,472.0 914.2,450.4 919.0,528.9 923.7,462.0 928.5,535.4 933.3,452.7 938.1,535.4 942.9,464.2 947.7,454.7 952.5,527.2 957.3,499.6 962.1,468.5 966.9,454.7 971.7,530.6 976.5,463.9 981.3,535.4 986.1,462.2 990.9,469.4 995.7,532.3 1000.5,463.9 1005.3,534.0 1010.1,452.2 1014.9,532.3 1019.7,469.4 1024.5,454.7 1029.3,535.4 1034.1,455.1 1038.9,532.3 1043.7,468.2 1048.5,500.4 1053.3,503.0 1058.1,443.0 1062.9,532.3 1067.7,493.5" stroke="#8a1018" stroke-width="1.7" stroke-linejoin="round"/>
<path d="M770 536.4V539.5M1057.7 536.4V539.5" stroke="#c8c8c8" stroke-width="1"/>
</svg>
<span class="t" style="left:662.79px;top:133.55px;font-size:10px;color:#7a7a7a;letter-spacing:-0.391px;">8s</span>
<span class="t" style="left:662.79px;top:161.75px;font-size:10px;color:#7a7a7a;letter-spacing:-0.388px;">6s</span>
<span class="t" style="left:662.80px;top:190.35px;font-size:10px;color:#7a7a7a;letter-spacing:-0.399px;">4s</span>
<span class="t" style="left:662.79px;top:218.65px;font-size:10px;color:#7a7a7a;letter-spacing:-0.388px;">2s</span>
<span class="t" style="left:662.79px;top:247.35px;font-size:10px;color:#7a7a7a;letter-spacing:-0.392px;">0s</span>
<span class="t" style="left:58.24px;top:410.95px;font-size:10px;color:#7a7a7a;letter-spacing:-0.236px;">250/s</span>
<span class="t" style="left:58.24px;top:433.25px;font-size:10px;color:#7a7a7a;letter-spacing:-0.236px;">200/s</span>
<span class="t" style="left:58.23px;top:455.85px;font-size:10px;color:#7a7a7a;letter-spacing:-0.233px;">150/s</span>
<span class="t" style="left:58.23px;top:478.65px;font-size:10px;color:#7a7a7a;letter-spacing:-0.233px;">100/s</span>
<span class="t" style="left:63.59px;top:501.65px;font-size:10px;color:#7a7a7a;letter-spacing:-0.242px;">50/s</span>
<span class="t" style="left:68.93px;top:524.65px;font-size:10px;color:#7a7a7a;letter-spacing:-0.252px;">0/s</span>
<span class="t" style="left:656.93px;top:410.65px;font-size:10px;color:#7a7a7a;letter-spacing:-0.311px;">100</span>
<span class="t" style="left:662.28px;top:433.25px;font-size:10px;color:#7a7a7a;letter-spacing:-0.412px;">80</span>
<span class="t" style="left:662.28px;top:455.85px;font-size:10px;color:#7a7a7a;letter-spacing:-0.409px;">60</span>
<span class="t" style="left:662.29px;top:478.65px;font-size:10px;color:#7a7a7a;letter-spacing:-0.420px;">40</span>
<span class="t" style="left:662.28px;top:501.65px;font-size:10px;color:#7a7a7a;letter-spacing:-0.409px;">20</span>
<span class="t" style="left:667.62px;top:524.65px;font-size:10px;color:#7a7a7a;letter-spacing:0.000px;">0</span>
<span class="t" style="left:423.60px;top:269.77px;font-size:10.2px;color:#7a7a7a;letter-spacing:-0.380px;">01:20:00 PM</span>
<span class="t" style="left:746.40px;top:269.77px;font-size:10.2px;color:#7a7a7a;letter-spacing:-0.340px;">01:15:00 PM</span>
<span class="t" style="left:1014.80px;top:269.77px;font-size:10.2px;color:#7a7a7a;letter-spacing:-0.340px;">01:20:00 PM</span>
<span class="t" style="left:151.10px;top:547.17px;font-size:10.2px;color:#7a7a7a;letter-spacing:-0.340px;">01:15:00 PM</span>
<span class="t" style="left:423.00px;top:547.17px;font-size:10.2px;color:#7a7a7a;letter-spacing:-0.340px;">01:20:00 PM</span>
<span class="t" style="left:742.80px;top:547.17px;font-size:10.2px;color:#7a7a7a;letter-spacing:-0.340px;">01:15:00 PM</span>
<span class="t" style="left:1014.40px;top:547.17px;font-size:10.2px;color:#7a7a7a;letter-spacing:-0.340px;">01:20:00 PM</span>
<div class="b" style="left:489.8px;top:134.7px;width:11.7px;height:11.3px;background:#0a2147;"></div>
<span class="t" style="left:505.09px;top:134.14px;font-size:12px;color:#3b3a39;letter-spacing:-0.001px;">lasttimestamp</span>
<div class="b" style="left:489.8px;top:157.6px;width:11.7px;height:11.3px;background:#0a1a9c;"></div>
<span class="t" style="left:505.40px;top:157.04px;font-size:12px;color:#3b3a39;letter-spacing:0.005px;">get</span>
<div class="b" style="left:489.8px;top:180.4px;width:11.7px;height:11.3px;background:#0b4aa6;"></div>
<span class="t" style="left:505.39px;top:179.84px;font-size:12px;color:#3b3a39;letter-spacing:0.181px;">add</span>
<div class="b" style="left:489.8px;top:203.2px;width:11.7px;height:11.3px;background:#1068c8;"></div>
<span class="t" style="left:505.88px;top:202.64px;font-size:12px;color:#3b3a39;letter-spacing:-0.090px;">Aggregate</span>
<div class="b" style="left:1081.2px;top:134.7px;width:11.7px;height:11.3px;background:#0f1a9e;"></div>
<span class="t" style="left:1096.49px;top:134.14px;font-size:12px;color:#3b3a39;letter-spacing:-0.081px;">lasttimesta...</span>
<div class="b" style="left:1081.2px;top:157.6px;width:11.7px;height:11.3px;background:#b88fbc;"></div>
<span class="t" style="left:1096.80px;top:157.04px;font-size:12px;color:#3b3a39;letter-spacing:-0.118px;">get Pct 90</span>
<div class="b" style="left:1081.2px;top:180.4px;width:11.7px;height:11.3px;background:#136f78;"></div>
<span class="t" style="left:1096.79px;top:179.84px;font-size:12px;color:#3b3a39;letter-spacing:-0.200px;">add Pct 90</span>
<div class="b" style="left:1081.2px;top:203.2px;width:11.7px;height:11.3px;background:#742c6e;"></div>
<span class="t" style="left:1097.28px;top:202.64px;font-size:12px;color:#3b3a39;letter-spacing:-0.200px;">Aggregate P...</span>
<div class="b" style="left:489.8px;top:411.8px;width:11.7px;height:11.3px;background:#0c3a2e;"></div>
<span class="t" style="left:505.09px;top:411.24px;font-size:12px;color:#3b3a39;letter-spacing:-0.001px;">lasttimestamp</span>
<div class="b" style="left:489.8px;top:434.6px;width:11.7px;height:11.3px;background:#0f4a60;"></div>
<span class="t" style="left:505.40px;top:434.04px;font-size:12px;color:#3b3a39;letter-spacing:0.005px;">get</span>
<div class="b" style="left:489.8px;top:457.3px;width:11.7px;height:11.3px;background:#3a6658;"></div>
<span class="t" style="left:505.39px;top:456.74px;font-size:12px;color:#3b3a39;letter-spacing:0.181px;">add</span>
<div class="b" style="left:489.8px;top:480.2px;width:11.7px;height:11.3px;background:#0f7a8c;"></div>
<span class="t" style="left:505.88px;top:479.64px;font-size:12px;color:#3b3a39;letter-spacing:-0.090px;">Aggregate</span>
<div class="b" style="left:1081.2px;top:411.8px;width:11.7px;height:11.3px;background:#a30f0f;"></div>
<span class="t" style="left:1096.49px;top:411.24px;font-size:12px;color:#3b3a39;letter-spacing:-0.081px;">lasttimesta...</span>
<div class="b" style="left:1081.2px;top:434.6px;width:11.7px;height:11.3px;background:#4b0a50;"></div>
<span class="t" style="left:1096.80px;top:434.04px;font-size:12px;color:#3b3a39;letter-spacing:-0.130px;">get Error 500</span>
<div class="b" style="left:1081.2px;top:457.3px;width:11.7px;height:11.3px;background:#8a0a3c;"></div>
<span class="t" style="left:1096.79px;top:456.74px;font-size:12px;color:#3b3a39;letter-spacing:-0.158px;">add Error 500</span>
<div class="b" style="left:1081.2px;top:480.2px;width:11.7px;height:11.3px;background:#b8106c;"></div>
<span class="t" style="left:1097.28px;top:479.64px;font-size:12px;color:#3b3a39;letter-spacing:-0.261px;">Aggregate E...</span>
<div class="b" style="left:271px;top:288.3px;width:4.9px;height:43.7px;background:#0b4aa6;"></div>
<span class="t" style="left:281.07px;top:287.66px;font-size:10.1px;color:#323130;letter-spacing:-0.586px;-webkit-text-stroke:0.2px #323130;">add</span>
<span class="t" style="left:281.24px;top:300.05px;font-size:36.3px;color:#292827;-webkit-text-stroke:1.1px #292827;transform:scaleX(1.051);transform-origin:10.11px 50%;">7</span>
<svg width="1199" height="638" viewBox="0 0 1199 638"><circle fill="#292827" cx="306.00" cy="330.95" r="2.80"/></svg>
<svg width="1199" height="638" viewBox="0 0 1199 638"><polygon fill="#292827" points="320.40,306.20 321.70,306.20 321.70,333.45 317.35,333.45 317.35,311.50 312.20,313.80 311.40,311.40"/></svg>
<span class="t" style="left:326.58px;top:300.05px;font-size:36.3px;color:#292827;-webkit-text-stroke:1.1px #292827;transform:scaleX(0.919);transform-origin:10.22px 50%;">6</span>
<div class="b" style="left:380.6px;top:288.3px;width:4.9px;height:43.7px;background:#1068c8;"></div>
<span class="t" style="left:390.68px;top:287.66px;font-size:10.1px;color:#323130;letter-spacing:-0.418px;-webkit-text-stroke:0.2px #323130;">Aggregate</span>
<span class="t" style="left:390.81px;top:300.05px;font-size:36.3px;color:#292827;-webkit-text-stroke:1.1px #292827;transform:scaleX(0.998);transform-origin:10.09px 50%;">2</span>
<svg width="1199" height="638" viewBox="0 0 1199 638"><polygon fill="#292827" points="421.80,306.20 423.10,306.20 423.10,333.45 418.75,333.45 418.75,311.50 414.00,313.80 413.20,311.40"/></svg>
<svg width="1199" height="638" viewBox="0 0 1199 638"><circle fill="#292827" cx="430.85" cy="330.70" r="3.05"/></svg>
<span class="t" style="left:435.61px;top:300.05px;font-size:36.3px;color:#292827;-webkit-text-stroke:1.1px #292827;transform:scaleX(0.953);transform-origin:10.09px 50%;">2</span>
<span class="t" style="left:456.63px;top:300.05px;font-size:36.3px;color:#292827;-webkit-text-stroke:1.1px #292827;transform:scaleX(0.992);transform-origin:10.22px 50%;">6</span>
<div class="b" style="left:644.3px;top:288.3px;width:4.9px;height:43.7px;background:#0f1a9e;"></div>
<span class="t" style="left:653.92px;top:287.66px;font-size:10.1px;color:#323130;letter-spacing:-0.488px;-webkit-text-stroke:0.2px #323130;">lasttimestamp Pct 90</span>
<svg width="1199" height="638" viewBox="0 0 1199 638"><polygon fill="#292827" points="664.60,306.20 665.90,306.20 665.90,333.45 661.55,333.45 661.55,311.50 656.30,313.80 655.50,311.40"/></svg>
<svg width="1199" height="638" viewBox="0 0 1199 638"><circle fill="#292827" cx="673.80" cy="330.95" r="2.80"/></svg>
<svg width="1199" height="638" viewBox="0 0 1199 638"><polygon fill="#292827" points="688.30,306.20 689.60,306.20 689.60,333.45 685.25,333.45 685.25,311.50 680.00,313.80 679.20,311.40"/></svg>
<span class="t" style="left:693.51px;top:300.05px;font-size:36.3px;color:#292827;-webkit-text-stroke:1.1px #292827;transform:scaleX(0.940);transform-origin:10.09px 50%;">9</span>
<span class="t" style="left:717.40px;top:320.23px;font-size:14px;font-weight:bold;color:#292827;transform:scaleX(0.848);transform-origin:3.85px 50%;">s</span>
<div class="b" style="left:767.8px;top:288.3px;width:4.9px;height:43.7px;background:#b88fbc;"></div>
<span class="t" style="left:777.18px;top:287.66px;font-size:10.1px;color:#323130;letter-spacing:-0.562px;-webkit-text-stroke:0.2px #323130;">get Pct 90</span>
<span class="t" style="left:777.61px;top:300.05px;font-size:36.3px;color:#292827;-webkit-text-stroke:1.1px #292827;transform:scaleX(0.975);transform-origin:10.09px 50%;">2</span>
<svg width="1199" height="638" viewBox="0 0 1199 638"><circle fill="#292827" cx="803.00" cy="330.95" r="2.80"/></svg>
<span class="t" style="left:808.21px;top:300.05px;font-size:36.3px;color:#292827;-webkit-text-stroke:1.1px #292827;transform:scaleX(0.949);transform-origin:10.09px 50%;">8</span>
<span class="t" style="left:831.95px;top:320.23px;font-size:14px;font-weight:bold;color:#292827;transform:scaleX(0.833);transform-origin:3.85px 50%;">s</span>
<div class="b" style="left:868.9px;top:288.3px;width:4.9px;height:43.7px;background:#136f78;"></div>
<span class="t" style="left:878.37px;top:287.66px;font-size:10.1px;color:#323130;letter-spacing:-0.585px;-webkit-text-stroke:0.2px #323130;">add Pct 90</span>
<span class="t" style="left:879.31px;top:300.05px;font-size:36.3px;color:#292827;-webkit-text-stroke:1.1px #292827;transform:scaleX(0.896);transform-origin:9.99px 50%;">3</span>
<svg width="1199" height="638" viewBox="0 0 1199 638"><circle fill="#292827" cx="904.80" cy="331.15" r="2.60"/></svg>
<span class="t" style="left:909.14px;top:300.05px;font-size:36.3px;color:#292827;-webkit-text-stroke:1.1px #292827;transform:scaleX(1.006);transform-origin:10.11px 50%;">7</span>
<span class="t" style="left:930.37px;top:300.05px;font-size:36.3px;color:#292827;-webkit-text-stroke:1.1px #292827;transform:scaleX(1.088);transform-origin:9.98px 50%;">4</span>
<span class="t" style="left:954.65px;top:320.23px;font-size:14px;font-weight:bold;color:#292827;transform:scaleX(0.833);transform-origin:3.85px 50%;">s</span>
<div class="b" style="left:991.1px;top:288.3px;width:4.9px;height:43.7px;background:#742c6e;"></div>
<span class="t" style="left:1001.38px;top:287.66px;font-size:10.1px;color:#323130;letter-spacing:-0.562px;-webkit-text-stroke:0.2px #323130;">Aggregate Pct 90</span>
<svg width="1199" height="638" viewBox="0 0 1199 638"><polygon fill="#292827" points="1011.30,306.20 1012.60,306.20 1012.60,333.45 1008.25,333.45 1008.25,311.50 1003.00,313.80 1002.20,311.40"/></svg>
<svg width="1199" height="638" viewBox="0 0 1199 638"><circle fill="#292827" cx="1020.50" cy="330.95" r="2.80"/></svg>
<span class="t" style="left:1025.51px;top:300.05px;font-size:36.3px;color:#292827;-webkit-text-stroke:1.1px #292827;transform:scaleX(0.926);transform-origin:10.09px 50%;">8</span>
<span class="t" style="left:1046.73px;top:300.05px;font-size:36.3px;color:#292827;-webkit-text-stroke:1.1px #292827;transform:scaleX(0.969);transform-origin:10.22px 50%;">6</span>
<span class="t" style="left:1071.45px;top:320.23px;font-size:14px;font-weight:bold;color:#292827;transform:scaleX(0.833);transform-origin:3.85px 50%;">s</span>
<div class="b" style="left:80.3px;top:566px;width:4.9px;height:43.7px;background:#0c3a2e;"></div>
<span class="t" style="left:89.92px;top:565.36px;font-size:10.1px;color:#323130;letter-spacing:-0.383px;-webkit-text-stroke:0.2px #323130;">lasttimestamp</span>
<span class="t" style="left:90.46px;top:577.75px;font-size:36.3px;color:#292827;-webkit-text-stroke:1.1px #292827;transform:scaleX(0.970);transform-origin:10.09px 50%;">2</span>
<span class="t" style="left:112.13px;top:577.75px;font-size:36.3px;color:#292827;-webkit-text-stroke:1.1px #292827;transform:scaleX(0.947);transform-origin:10.22px 50%;">6</span>
<svg width="1199" height="638" viewBox="0 0 1199 638"><circle fill="#292827" cx="137.90" cy="608.65" r="2.80"/></svg>
<span class="t" style="left:142.34px;top:577.75px;font-size:36.3px;color:#292827;-webkit-text-stroke:1.1px #292827;transform:scaleX(0.830);transform-origin:10.06px 50%;">5</span>
<span class="t" style="left:162.31px;top:577.75px;font-size:36.3px;color:#292827;-webkit-text-stroke:1.1px #292827;transform:scaleX(0.975);transform-origin:10.09px 50%;">2</span>
<svg width="1199" height="638" viewBox="0 0 1199 638"><path d="M189.00 612.30L192.30 600.40" stroke="#292827" stroke-width="1.7"/></svg>
<span class="t" style="left:193.15px;top:597.93px;font-size:14px;font-weight:bold;color:#292827;transform:scaleX(0.833);transform-origin:3.85px 50%;">s</span>
<div class="b" style="left:229.9px;top:566px;width:4.9px;height:43.7px;background:#0f4a60;"></div>
<span class="t" style="left:239.38px;top:565.36px;font-size:10.1px;color:#323130;letter-spacing:-0.171px;-webkit-text-stroke:0.2px #323130;">get</span>
<svg width="1199" height="638" viewBox="0 0 1199 638"><polygon fill="#292827" points="250.30,583.90 251.60,583.90 251.60,611.15 247.25,611.15 247.25,589.20 242.10,591.50 241.30,589.10"/></svg>
<span class="t" style="left:255.01px;top:577.75px;font-size:36.3px;color:#292827;-webkit-text-stroke:1.1px #292827;transform:scaleX(0.987);transform-origin:10.09px 50%;">2</span>
<svg width="1199" height="638" viewBox="0 0 1199 638"><circle fill="#292827" cx="281.10" cy="608.45" r="3.00"/></svg>
<span class="t" style="left:285.21px;top:577.75px;font-size:36.3px;color:#292827;-webkit-text-stroke:1.1px #292827;transform:scaleX(0.863);transform-origin:9.99px 50%;">3</span>
<span class="t" style="left:306.92px;top:577.75px;font-size:36.3px;color:#292827;-webkit-text-stroke:1.1px #292827;transform:scaleX(1.093);transform-origin:9.98px 50%;">4</span>
<svg width="1199" height="638" viewBox="0 0 1199 638"><path d="M333.10 612.30L336.40 600.40" stroke="#292827" stroke-width="1.7"/></svg>
<span class="t" style="left:337.45px;top:597.93px;font-size:14px;font-weight:bold;color:#292827;transform:scaleX(0.893);transform-origin:3.85px 50%;">s</span>
<div class="b" style="left:374.3px;top:566px;width:4.9px;height:43.7px;background:#3a6658;"></div>
<span class="t" style="left:384.17px;top:565.36px;font-size:10.1px;color:#323130;letter-spacing:-0.486px;-webkit-text-stroke:0.2px #323130;">add</span>
<span class="t" style="left:384.46px;top:577.75px;font-size:36.3px;color:#292827;-webkit-text-stroke:1.1px #292827;transform:scaleX(0.957);transform-origin:10.09px 50%;">9</span>
<svg width="1199" height="638" viewBox="0 0 1199 638"><circle fill="#292827" cx="409.85" cy="608.50" r="2.95"/></svg>
<span class="t" style="left:414.89px;top:577.75px;font-size:36.3px;color:#292827;-webkit-text-stroke:1.1px #292827;transform:scaleX(0.847);transform-origin:10.06px 50%;">5</span>
<svg width="1199" height="638" viewBox="0 0 1199 638"><path d="M440.70 612.30L444.00 600.40" stroke="#292827" stroke-width="1.7"/></svg>
<span class="t" style="left:445.05px;top:597.93px;font-size:14px;font-weight:bold;color:#292827;transform:scaleX(0.893);transform-origin:3.85px 50%;">s</span>
<div class="b" style="left:644.3px;top:566px;width:4.9px;height:43.7px;background:#8c1212;"></div>
<span class="t" style="left:653.92px;top:565.36px;font-size:10.1px;color:#323130;letter-spacing:-0.479px;-webkit-text-stroke:0.2px #323130;">lasttimestamp Error 500</span>
<span class="t" style="left:654.41px;top:577.75px;font-size:36.3px;color:#292827;-webkit-text-stroke:1.1px #292827;transform:scaleX(0.885);transform-origin:9.99px 50%;">3</span>
<span class="t" style="left:674.89px;top:577.75px;font-size:36.3px;color:#292827;-webkit-text-stroke:1.1px #292827;transform:scaleX(0.989);transform-origin:10.11px 50%;">7</span>
<span class="t" style="left:696.72px;top:577.75px;font-size:36.3px;color:#292827;-webkit-text-stroke:1.1px #292827;transform:scaleX(1.062);transform-origin:9.98px 50%;">4</span>
<div class="b" style="left:780.2px;top:566px;width:4.5px;height:43.7px;background:#4b0a50;"></div>
<span class="t" style="left:789.68px;top:565.36px;font-size:10.1px;color:#323130;letter-spacing:-0.552px;-webkit-text-stroke:0.2px #323130;">get Error 500</span>
<span class="t" style="left:790.92px;top:577.75px;font-size:36.3px;color:#292827;-webkit-text-stroke:1.1px #292827;transform:scaleX(1.062);transform-origin:9.98px 50%;">4</span>
<span class="t" style="left:813.48px;top:577.75px;font-size:36.3px;color:#292827;-webkit-text-stroke:1.1px #292827;transform:scaleX(0.975);transform-origin:10.22px 50%;">6</span>
<span class="t" style="left:833.41px;top:577.75px;font-size:36.3px;color:#292827;-webkit-text-stroke:1.1px #292827;transform:scaleX(0.953);transform-origin:10.09px 50%;">2</span>
<div class="b" style="left:888.1px;top:566px;width:4.9px;height:43.7px;background:#7c0a3c;"></div>
<span class="t" style="left:898.17px;top:565.36px;font-size:10.1px;color:#323130;letter-spacing:-0.595px;-webkit-text-stroke:0.2px #323130;">add Error 500</span>
<span class="t" style="left:899.22px;top:577.75px;font-size:36.3px;color:#292827;-webkit-text-stroke:1.1px #292827;transform:scaleX(1.093);transform-origin:9.98px 50%;">4</span>
<span class="t" style="left:920.84px;top:577.75px;font-size:36.3px;color:#292827;-webkit-text-stroke:1.1px #292827;transform:scaleX(0.800);transform-origin:10.06px 50%;">5</span>
<span class="t" style="left:941.96px;top:577.75px;font-size:36.3px;color:#292827;-webkit-text-stroke:1.1px #292827;transform:scaleX(1.002);transform-origin:10.09px 50%;">9</span>
<div class="b" style="left:996.6px;top:566px;width:4.9px;height:43.7px;background:#b8106c;"></div>
<span class="t" style="left:1007.08px;top:565.36px;font-size:10.1px;color:#323130;letter-spacing:-0.556px;-webkit-text-stroke:0.2px #323130;">Aggregate Error 500</span>
<svg width="1199" height="638" viewBox="0 0 1199 638"><polygon fill="#292827" points="1017.30,583.90 1018.60,583.90 1018.60,611.15 1014.25,611.15 1014.25,589.20 1009.10,591.50 1008.30,589.10"/></svg>
<svg width="1199" height="638" viewBox="0 0 1199 638"><circle fill="#292827" cx="1026.15" cy="608.70" r="2.75"/></svg>
<span class="t" style="left:1030.26px;top:577.75px;font-size:36.3px;color:#292827;-webkit-text-stroke:1.1px #292827;transform:scaleX(0.890);transform-origin:9.99px 50%;">3</span>
<span class="t" style="left:1055.74px;top:597.93px;font-size:14px;font-weight:bold;color:#292827;transform:scaleX(0.907);transform-origin:5.46px 50%;">K</span>
<svg width="1199" height="638" viewBox="0 0 1199 638" fill="none" stroke="#484644" stroke-width="1.1" stroke-linecap="round" stroke-linejoin="round"><path d="M59.4 574.4L65.3 569.2L71.2 574.4M59.4 601L65.3 606.2L71.2 601"/></svg>
<span class="t" style="left:57.99px;top:582.34px;font-size:12px;color:#323130;letter-spacing:-0.382px;">1/2</span>
<div class="b" style="left:32px;top:87px;width:222px;height:283.5px;background:#fff;border-radius:2px;box-shadow:0 3px 16px rgba(0,0,0,.26),0 0 5px rgba(0,0,0,.20);"></div>
<div class="b" style="left:43.2px;top:79.5px;width:15px;height:15px;background:#fff;transform:rotate(45deg);box-shadow:-1px -1px 4px rgba(0,0,0,.22);"></div>
<div class="b" style="left:33px;top:87px;width:60px;height:12px;background:#fff;"></div>
<span class="t" style="left:51.89px;top:100.55px;font-size:18.4px;color:#252423;letter-spacing:-0.651px;-webkit-text-stroke:0.45px #252423;">Requests</span>
<div class="b" style="left:52px;top:129.4px;width:181.8px;height:23.3px;border:1px solid #5c9fd8;border-radius:2px;background:#fff;"></div>
<svg width="1199" height="638" viewBox="0 0 1199 638" fill="none" stroke="#605e5c" stroke-width="1.1" stroke-linecap="round"><circle cx="66.6" cy="139.3" r="4.3"/><path d="M63.4 142.6L58.8 147.3"/></svg>
<span class="t" style="left:76.61px;top:132.74px;font-size:13px;color:#767472;letter-spacing:-0.073px;">Search to filter items...</span>
<div class="b" style="left:59.4px;top:160.5px;width:17.8px;height:18px;background:#0f7ad4;border-radius:2px;"></div>
<svg width="1199" height="638" viewBox="0 0 1199 638" fill="none" stroke="#fff" stroke-width="1.4" stroke-linecap="round" stroke-linejoin="round"><path d="M63.6 169.79999999999998L66.8 172.9L73.2 166.4"/></svg>
<span class="t" style="left:87.97px;top:163.13px;font-size:13px;color:#323130;letter-spacing:0.924px;-webkit-text-stroke:0.35px #323130;">All</span>
<div class="b" style="left:52px;top:188.5px;width:181.6px;height:31px;background:#ededed;"></div>
<div class="b" style="left:59.4px;top:194.9px;width:17.8px;height:18px;background:#0f7ad4;border-radius:2px;"></div>
<svg width="1199" height="638" viewBox="0 0 1199 638" fill="none" stroke="#fff" stroke-width="1.4" stroke-linecap="round" stroke-linejoin="round"><path d="M63.6 204.2L66.8 207.3L73.2 200.8"/></svg>
<span class="t" style="left:87.12px;top:196.83px;font-size:13px;color:#323130;letter-spacing:0.078px;">lasttimestamp</span>
<div class="b" style="left:52px;top:220.5px;width:181.6px;height:30.6px;background:#ededed;"></div>
<div class="b" style="left:59.4px;top:226.70000000000002px;width:17.8px;height:18px;background:#0f7ad4;border-radius:2px;"></div>
<svg width="1199" height="638" viewBox="0 0 1199 638" fill="none" stroke="#fff" stroke-width="1.4" stroke-linecap="round" stroke-linejoin="round"><path d="M63.6 236.0L66.8 239.10000000000002L73.2 232.60000000000002"/></svg>
<span class="t" style="left:87.45px;top:228.63px;font-size:13px;color:#323130;letter-spacing:0.435px;">get</span>
<div class="b" style="left:52px;top:252.1px;width:181.6px;height:30.8px;background:#ededed;"></div>
<div class="b" style="left:59.4px;top:258.4px;width:17.8px;height:18px;background:#0f7ad4;border-radius:2px;"></div>
<svg width="1199" height="638" viewBox="0 0 1199 638" fill="none" stroke="#fff" stroke-width="1.4" stroke-linecap="round" stroke-linejoin="round"><path d="M63.6 267.7L66.8 270.8L73.2 264.3"/></svg>
<span class="t" style="left:87.45px;top:260.34px;font-size:13px;color:#323130;letter-spacing:0.500px;">add</span>
<div class="b" style="left:52px;top:284px;width:181.6px;height:31px;background:#ededed;"></div>
<div class="b" style="left:59.4px;top:290.4px;width:17.8px;height:18px;background:#0f7ad4;border-radius:2px;"></div>
<svg width="1199" height="638" viewBox="0 0 1199 638" fill="none" stroke="#fff" stroke-width="1.4" stroke-linecap="round" stroke-linejoin="round"><path d="M63.6 299.7L66.8 302.8L73.2 296.3"/></svg>
<span class="t" style="left:87.97px;top:292.34px;font-size:13px;color:#323130;letter-spacing:0.051px;">Aggregate</span>
<div class="b" style="left:52.7px;top:331px;width:79px;height:23.2px;background:#0f78d4;border-radius:2px;"></div>
<span class="t" style="left:74.88px;top:335.44px;font-size:13px;font-weight:bold;color:#fff;letter-spacing:-0.480px;">Apply</span>
<div class="b" style="left:139.2px;top:331px;width:80.8px;height:23.2px;background:#fff;border:1px solid #8a8886;border-radius:2px;"></div>
<span class="t" style="left:159.94px;top:335.44px;font-size:13px;color:#323130;letter-spacing:-0.187px;-webkit-text-stroke:0.35px #323130;">Cancel</span>
</div></body></html>
